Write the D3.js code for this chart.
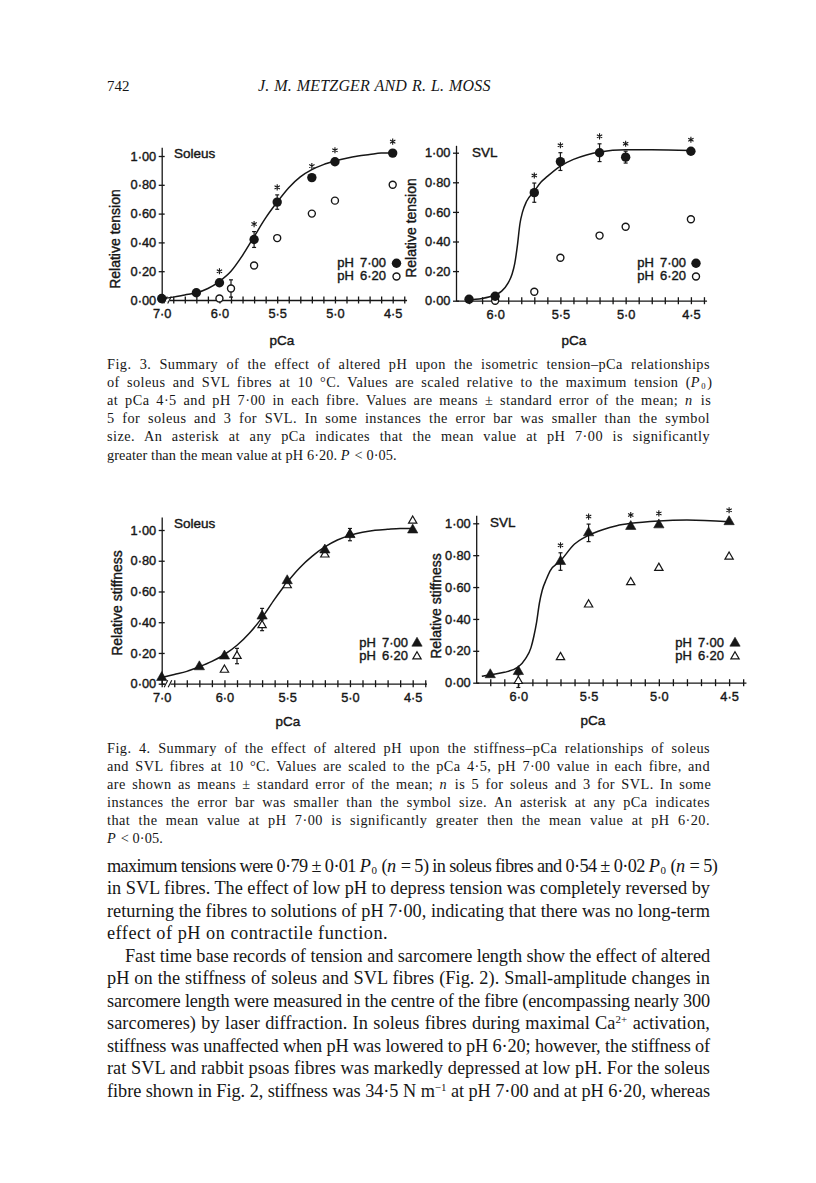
<!DOCTYPE html>
<html><head><meta charset="utf-8">
<script src="https://cdn.jsdelivr.net/npm/d3@7"></script>
<style>body{margin:0;background:#fff}svg{display:block}</style>
</head><body>
<svg id="page" width="816" height="1183"></svg>
<script>
// ---------------- DATA ----------------
// Fig. 3, soleus: relative tension
const f3SolPCa7   = [7.0, 6.2, 6.0, 5.7, 5.5, 5.2, 5.0, 4.5];
const f3SolVal7   = [0.01, 0.05, 0.12, 0.42, 0.68, 0.85, 0.96, 1.02];
const f3SolSem7   = [0, 0, 0, 0.055, 0.05, 0, 0, 0];
const f3SolPCa62  = [6.0, 5.9, 5.7, 5.5, 5.2, 5.0, 4.5];
const f3SolVal62  = [0.01, 0.08, 0.24, 0.43, 0.60, 0.69, 0.80];
const f3SolSem62  = [0, 0.06, 0, 0, 0, 0, 0];
const f3SolSig    = [6.0, 5.7, 5.5, 5.2, 5.0, 4.5];
const f3SolFitPCa = [7.0, 6.4, 6.3, 6.2, 6.1, 6.0, 5.9, 5.8, 5.7, 5.6, 5.5, 5.4, 5.3, 5.2, 5.1, 5.0, 4.9, 4.8, 4.7, 4.6, 4.5];
const f3SolFitVal = [0.01, 0.02, 0.035, 0.05, 0.08, 0.13, 0.20, 0.31, 0.44, 0.57, 0.68, 0.78, 0.855, 0.905, 0.94, 0.965, 0.985, 1.0, 1.01, 1.02, 1.02];

// Fig. 3, SVL: relative tension
const f3SvlPCa7   = [6.2, 6.0, 5.7, 5.5, 5.2, 5.0, 4.5];
const f3SvlVal7   = [0.01, 0.03, 0.73, 0.94, 1.00, 0.97, 1.01];
const f3SvlSem7   = [0, 0, 0.065, 0.06, 0.06, 0.04, 0];
const f3SvlPCa62  = [6.0, 5.7, 5.5, 5.2, 5.0, 4.5];
const f3SvlVal62  = [0.0, 0.06, 0.29, 0.44, 0.50, 0.55];
const f3SvlSem62  = [0, 0, 0, 0, 0, 0];
const f3SvlSig    = [5.7, 5.5, 5.2, 5.0, 4.5];
const f3SvlFitPCa = [6.22, 6.1, 6.0, 5.95, 5.9, 5.87, 5.85, 5.83, 5.81, 5.79, 5.76, 5.7, 5.65, 5.6, 5.5, 5.4, 5.3, 5.2, 5.0, 4.8, 4.5];
const f3SvlFitVal = [0.005, 0.015, 0.04, 0.065, 0.12, 0.18, 0.25, 0.37, 0.52, 0.60, 0.67, 0.74, 0.80, 0.84, 0.91, 0.955, 0.985, 1.005, 1.02, 1.02, 1.015];

// Fig. 4, soleus: relative stiffness
const f4SolPCa7   = [7.0, 6.2, 6.0, 5.7, 5.5, 5.2, 5.0, 4.5];
const f4SolVal7   = [0.04, 0.11, 0.18, 0.44, 0.67, 0.87, 0.97, 1.00];
const f4SolSem7   = [0, 0, 0, 0.05, 0, 0.02, 0.04, 0];
const f4SolPCa62  = [6.0, 5.9, 5.7, 5.5, 5.2, 5.0, 4.5];
const f4SolVal62  = [0.09, 0.18, 0.38, 0.64, 0.84, 0.97, 1.06];
const f4SolSem62  = [0, 0.05, 0.035, 0, 0, 0, 0];
const f4SolSig    = [];
const f4SolFitPCa = [7.0, 6.4, 6.3, 6.2, 6.1, 6.0, 5.9, 5.8, 5.7, 5.6, 5.5, 5.4, 5.3, 5.2, 5.1, 5.0, 4.9, 4.8, 4.7, 4.6, 4.5];
const f4SolFitVal = [0.04, 0.06, 0.08, 0.11, 0.145, 0.19, 0.25, 0.33, 0.43, 0.55, 0.66, 0.755, 0.83, 0.89, 0.935, 0.965, 0.985, 0.998, 1.005, 1.01, 1.01];

// Fig. 4, SVL: relative stiffness
const f4SvlPCa7   = [6.2, 6.0, 5.7, 5.5, 5.2, 5.0, 4.5];
const f4SvlVal7   = [0.05, 0.07, 0.76, 0.94, 0.98, 0.99, 1.01];
const f4SvlSem7   = [0, 0, 0.055, 0.055, 0, 0, 0];
const f4SvlPCa62  = [6.0, 5.7, 5.5, 5.2, 5.0, 4.5];
const f4SvlVal62  = [0.01, 0.16, 0.49, 0.63, 0.72, 0.79];
const f4SvlSem62  = [0.04, 0, 0, 0, 0, 0];
const f4SvlSig    = [5.7, 5.5, 5.2, 5.0, 4.5];
const f4SvlFitPCa = [6.26, 6.2, 6.1, 6.0, 5.95, 5.91, 5.89, 5.87, 5.85, 5.83, 5.8, 5.775, 5.7, 5.6, 5.5, 5.4, 5.3, 5.2, 5.0, 4.8, 4.5];
const f4SvlFitVal = [0.04, 0.05, 0.065, 0.10, 0.15, 0.22, 0.29, 0.38, 0.50, 0.58, 0.65, 0.70, 0.765, 0.87, 0.925, 0.96, 0.985, 1.0, 1.015, 1.02, 1.01];

// Axis ticks
const yTicks = [0, 0.2, 0.4, 0.6, 0.8, 1.0];
const xMajorBroken = [7.0, 6.0, 5.5, 5.0, 4.5];
const xMajor = [6.0, 5.5, 5.0, 4.5];
const legendLabels = ["pH 7·00", "pH 6·20"];

// Page text
const headerPage = "742";
const headerTitle = "J. M. METZGER  AND  R. L. MOSS";
const fig3Caption = [
  "Fig. 3. Summary of the effect of altered pH upon the isometric tension–pCa relationships",
  "of soleus and SVL fibres at 10 °C. Values are scaled relative to the maximum tension (_P_~0~)",
  "at pCa 4·5 and pH 7·00 in each fibre. Values are means ± standard error of the mean; _n_ is",
  "5 for soleus and 3 for SVL. In some instances the error bar was smaller than the symbol",
  "size. An asterisk at any pCa indicates that the mean value at pH 7·00 is significantly",
  "greater than the mean value at pH 6·20. _P_ < 0·05."
];
const fig4Caption = [
  "Fig. 4. Summary of the effect of altered pH upon the stiffness–pCa relationships of soleus",
  "and SVL fibres at 10 °C. Values are scaled to the pCa 4·5, pH 7·00 value in each fibre, and",
  "are shown as means ± standard error of the mean; _n_ is 5 for soleus and 3 for SVL. In some",
  "instances the error bar was smaller than the symbol size. An asterisk at any pCa indicates",
  "that the mean value at pH 7·00 is significantly greater then the mean value at pH 6·20.",
  "_P_ < 0·05."
];
const bodyText = [
  "maximum tensions were 0·79 ± 0·01 _P_~0~ (_n_ = 5) in soleus fibres and 0·54 ± 0·02 _P_~0~ (_n_ = 5)",
  "in SVL fibres. The effect of low pH to depress tension was completely reversed by",
  "returning the fibres to solutions of pH 7·00, indicating that there was no long-term",
  "effect of pH on contractile function.",
  "Fast time base records of tension and sarcomere length show the effect of altered",
  "pH on the stiffness of soleus and SVL fibres (Fig. 2). Small-amplitude changes in",
  "sarcomere length were measured in the centre of the fibre (encompassing nearly 300",
  "sarcomeres) by laser diffraction. In soleus fibres during maximal Ca^2+^ activation,",
  "stiffness was unaffected when pH was lowered to pH 6·20; however, the stiffness of",
  "rat SVL and rabbit psoas fibres was markedly depressed at low pH. For the soleus",
  "fibre shown in Fig. 2, stiffness was 34·5 N m^−1^ at pH 7·00 and at pH 6·20, whereas"
];

// ---------------- DRAWING ----------------
const INK = "#161616";
const SANS = "'Liberation Sans', Arial, Helvetica, sans-serif";
const SERIF = "'Liberation Serif', 'Times New Roman', serif";
const svg = d3.select("#page");
const fmtY = d => d3.format(".2f")(d).replace(".", "·");
const fmt1 = d => d3.format(".1f")(d).replace(".", "·");
const TXT_STROKE = 0.4;

function sansText(g, x, y, str, size, anchor) {
  return g.append("text").attr("x", x).attr("y", y).text(str)
    .attr("font-family", SANS).attr("font-size", size).attr("fill", INK)
    .attr("stroke", INK).attr("stroke-width", TXT_STROKE)
    .attr("text-anchor", anchor || "start");
}

function drawPlot(c) {
  const g = svg.append("g").attr("color", INK);
  const x = d3.scaleLinear().domain([c.xStart, c.xEnd]).range([c.x0, c.x1]);
  const y = d3.scaleLinear().domain([0, 1]).range([c.y0, c.y1]);
  const disp = p => (c.brk && p > 6.6 ? c.xStart : p);
  const X = p => x(disp(p));
  const yAx = d3.scaleLinear().domain([0, c.yTop]).range([y(0), y(c.yTop)]);

  // x axis ticks (crossing the axis line)
  const ticks = d3.range(Math.round(c.tickFrom * 10), 43, -1).map(v => v / 10);
  if (c.brk) ticks.unshift(7.0);
  const ax = g.append("g").attr("transform", `translate(0,${c.y0})`)
    .call(d3.axisBottom(x).tickValues(ticks.map(disp)).tickSize(3.5).tickSizeOuter(0).tickFormat(""));
  ax.selectAll(".tick line").attr("y1", -3.5);
  ax.selectAll("path,line").attr("stroke-width", 1.3);
  const majors = c.brk ? xMajorBroken : xMajor;
  const al = g.append("g").attr("transform", `translate(0,${c.y0})`)
    .call(d3.axisBottom(x).tickValues(majors.map(disp)).tickSize(0).tickPadding(9)
      .tickFormat(v => (c.brk && v === c.xStart) ? "7·0" : fmt1(v)));
  al.select(".domain").remove();
  al.attr("font-family", SANS).attr("font-size", 12.8);
  al.selectAll("text").attr("fill", INK).attr("stroke", INK).attr("stroke-width", TXT_STROKE);

  // axis break
  if (c.brk) {
    const xb = x(6.45);
    g.append("rect").attr("x", xb - 2.5).attr("y", c.y0 - 1.5).attr("width", 5).attr("height", 3).attr("fill", "#fff");
    [-2, 2].forEach(d => g.append("line")
      .attr("x1", xb + d - 1.8).attr("y1", c.y0 + 3.5).attr("x2", xb + d + 1.8).attr("y2", c.y0 - 3.5)
      .attr("stroke", INK).attr("stroke-width", 1.1));
  }

  // y axis
  const ay = g.append("g").attr("transform", `translate(${c.x0},0)`)
    .call(d3.axisLeft(yAx).tickValues(yTicks).tickSize(3).tickPadding(2.5).tickSizeOuter(0).tickFormat(fmtY));
  ay.selectAll(".tick line").attr("x1", 3);
  ay.selectAll("path,line").attr("stroke-width", 1.3);
  ay.attr("font-family", SANS).attr("font-size", 12.8);
  ay.selectAll("text").attr("fill", INK).attr("stroke", INK).attr("stroke-width", TXT_STROKE);

  // axis titles
  sansText(g, c.xLabelX, c.xLabelY, "pCa", 13.5, "middle");
  sansText(g, 0, 0, c.yLabel, 14, "middle")
    .attr("transform", `translate(${c.yLabelX},${c.yLabelY}) rotate(-90)`);
  sansText(g, c.titleX, c.titleY, c.title, 13.5);

  // fit curve
  const fit = d3.zip(c.fitP, c.fitV);
  g.append("path").datum(fit)
    .attr("d", d3.line().x(d => X(d[0])).y(d => y(d[1])).curve(d3.curveMonotoneX))
    .attr("fill", "none").attr("stroke", INK).attr("stroke-width", 1.5);

  const pts7 = d3.zip(c.p7, c.v7, c.e7);
  const pts62 = d3.zip(c.p62, c.v62, c.e62);

  // error bars
  [...pts62, ...pts7].filter(d => d[2] > 0).forEach(d => {
    const xx = X(d[0]), ya = y(d[1] - d[2]), yb = y(d[1] + d[2]);
    g.append("line").attr("x1", xx).attr("x2", xx).attr("y1", ya).attr("y2", yb).attr("stroke", INK).attr("stroke-width", 1.2);
    [ya, yb].forEach(yy => g.append("line").attr("x1", xx - 2).attr("x2", xx + 2).attr("y1", yy).attr("y2", yy)
      .attr("stroke", INK).attr("stroke-width", 1.2));
  });

  const mark = (sel, filled, xx, yy) => {
    if (c.shape === "circle") {
      sel.append("circle").attr("cx", xx).attr("cy", yy).attr("r", filled ? 4.7 : 3.5)
        .attr("fill", filled ? INK : "#fff").attr("stroke", INK).attr("stroke-width", filled ? 0 : 1.4);
    } else {
      sel.append("path").attr("d", d3.symbol(d3.symbolTriangle, filled ? 46 : 30)())
        .attr("transform", `translate(${xx},${yy})`)
        .attr("fill", filled ? INK : "#fff").attr("stroke", INK).attr("stroke-width", filled ? 0.6 : 1.2);
    }
  };
  pts62.forEach(d => mark(g, false, X(d[0]), y(d[1])));
  pts7.forEach(d => mark(g, true, X(d[0]), y(d[1])));

  // significance asterisks
  c.sig.forEach(p => {
    const d = pts7.find(q => q[0] === p);
    const yy = d[2] > 0 ? y(d[1] + d[2]) - 7.5 : y(d[1]) - 11.5;
    g.append("path").attr("d", d3.symbol(d3.symbolAsterisk, 26)())
      .attr("transform", `translate(${X(p)},${yy})`)
      .attr("fill", "none").attr("stroke", INK).attr("stroke-width", 1.1);
  });

  // legend
  legendLabels.forEach((lab, i) => {
    const ly = c.legY + i * 13.3;
    const t = sansText(g, c.legX, ly, "", 13, "end");
    t.append("tspan").text("pH");
    t.append("tspan").attr("dx", 6).text(lab.split(" ")[1]);
    mark(g, i === 0, c.legSymX, ly - 3.8);
  });
}

const plots = [
  { xStart: 6.5, xEnd: 4.38, x0: 161.7, x1: 161.7 + 21.2 * 11.55, y0: 300, y1: 156, yTop: 1.06, brk: true, tickFrom: 6.4,
    p7: f3SolPCa7, v7: f3SolVal7, e7: f3SolSem7, p62: f3SolPCa62, v62: f3SolVal62, e62: f3SolSem62,
    sig: f3SolSig, fitP: f3SolFitPCa, fitV: f3SolFitVal, shape: "circle",
    title: "Soleus", titleX: 174, titleY: 158, yLabel: "Relative tension", yLabelX: 120, yLabelY: 239,
    xLabelX: 282, xLabelY: 345, legX: 386, legY: 267, legSymX: 396.5 },
  { xStart: 6.3, xEnd: 4.38, x0: 456, x1: 456 + 19.2 * 13.05, y0: 300.7, y1: 152.7, yTop: 1.05, brk: false, tickFrom: 6.2,
    p7: f3SvlPCa7, v7: f3SvlVal7, e7: f3SvlSem7, p62: f3SvlPCa62, v62: f3SvlVal62, e62: f3SvlSem62,
    sig: f3SvlSig, fitP: f3SvlFitPCa, fitV: f3SvlFitVal, shape: "circle",
    title: "SVL", titleX: 472, titleY: 157, yLabel: "Relative tension", yLabelX: 415.5, yLabelY: 228,
    xLabelX: 574, xLabelY: 345, legX: 686, legY: 267, legSymX: 696 },
  { xStart: 6.5, xEnd: 4.39, x0: 161.7, x1: 161.7 + 21.1 * 12.55, y0: 683.7, y1: 530, yTop: 1.085, brk: true, tickFrom: 6.4,
    p7: f4SolPCa7, v7: f4SolVal7, e7: f4SolSem7, p62: f4SolPCa62, v62: f4SolVal62, e62: f4SolSem62,
    sig: f4SolSig, fitP: f4SolFitPCa, fitV: f4SolFitVal, shape: "triangle",
    title: "Soleus", titleX: 174, titleY: 528, yLabel: "Relative stiffness", yLabelX: 121.5, yLabelY: 603,
    xLabelX: 288, xLabelY: 726, legX: 408, legY: 647, legSymX: 417 },
  { xStart: 6.3, xEnd: 4.38, x0: 476.2, x1: 476.2 + 19.2 * 14.05, y0: 682.7, y1: 523.3, yTop: 1.05, brk: false, tickFrom: 6.2,
    p7: f4SvlPCa7, v7: f4SvlVal7, e7: f4SvlSem7, p62: f4SvlPCa62, v62: f4SvlVal62, e62: f4SvlSem62,
    sig: f4SvlSig, fitP: f4SvlFitPCa, fitV: f4SvlFitVal, shape: "triangle",
    title: "SVL", titleX: 490, titleY: 527, yLabel: "Relative stiffness", yLabelX: 441, yLabelY: 606,
    xLabelX: 593, xLabelY: 725, legX: 724, legY: 647, legSymX: 735 }
];
plots.forEach(drawPlot);

// ---------------- page text ----------------
// justified lines: part of the slack goes to letter spacing, the rest to word spacing
function serifLine(x, y, width, str, size, opts) {
  opts = opts || {};
  const t = svg.append("text").attr("x", x).attr("y", y)
    .attr("font-family", SERIF).attr("font-size", size).attr("fill", INK);
  if (opts.italic) t.attr("font-style", "italic");
  let gap = false;
  str.split(/(_[^_]+_|~[^~]+~|\^[^^]+\^)/).filter(s => s.length).forEach(s => {
    const ts = t.append("tspan");
    if (gap) { ts.attr("dx", 1.2); gap = false; }
    if (s[0] === "_") { ts.attr("font-style", "italic").text(s.slice(1, -1)); gap = true; }
    else if (s[0] === "~") {
      ts.attr("font-size", size * 0.6).attr("baseline-shift", -size * 0.13).text(s.slice(1, -1)); gap = true;
    }
    else if (s[0] === "^") ts.attr("font-size", size * 0.6).attr("baseline-shift", size * 0.33).text(s.slice(1, -1));
    else ts.text(s);
  });
  const node = t.node();
  const nChars = node.getNumberOfChars();
  const w0 = node.getComputedTextLength();
  const nSp = (str.match(/ /g) || []).length;
  if (opts.justify) {
    const diff = width - w0;
    if (diff < 0) {
      t.attr("letter-spacing", diff / nChars);
    } else {
      const ls = Math.min(0.45, diff * 0.45 / nChars);
      t.attr("letter-spacing", ls);
      const w1 = node.getComputedTextLength();
      if (nSp > 0 && w1 < width) t.attr("word-spacing", (width - w1) / nSp);
    }
  } else if (opts.ls) {
    t.attr("letter-spacing", opts.ls);
  }
  return t;
}
svg.append("text").attr("x", 107).attr("y", 91).text(headerPage)
  .attr("font-family", SERIF).attr("font-size", 15).attr("fill", INK);
serifLine(258, 91, 234, headerTitle, 16, { italic: true, justify: true });

const capL = 107, capW = 603;
fig3Caption.forEach((s, i) => serifLine(capL, 368.5 + i * 18.2, capW, s, 14.3,
  { justify: i < fig3Caption.length - 1, ls: 0.1 }));
fig4Caption.forEach((s, i) => serifLine(capL, 752.5 + i * 18, capW, s, 14.3,
  { justify: i < fig4Caption.length - 1, ls: 0.1 }));
bodyText.forEach((s, i) => {
  const indent = i === 4 ? 18 : 0;
  serifLine(capL + indent, 871.5 + i * 22.5, capW - indent, s, 18.3, { justify: i !== 3, ls: 0.5 });
});
</script>
</body></html>
